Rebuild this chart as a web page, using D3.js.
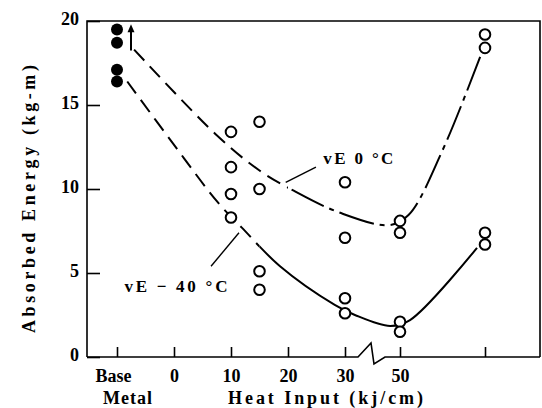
<!DOCTYPE html>
<html>
<head>
<meta charset="utf-8">
<script src="https://cdn.jsdelivr.net/npm/d3@7"></script>
<style>
  body { margin: 0; background: #fff; }
  svg { display: block; font-family: 'Liberation Serif', 'Times New Roman', serif; }
</style>
</head>
<body>
<div id="chart"></div>
<script>
// x axis: Base Metal sits left of 0, axis is broken between 30 and 50,
// the last (unlabelled) tick is the highest heat input
var tickValues = [-10, 0, 10, 20, 30, 50, 100],
    tickLabels = ['Base', '0', '10', '20', '30', '50', ''],
    yTicks = [0, 5, 10, 15, 20];

// base metal (filled dots)
var baseMetalX = -10,
    baseMetalEnergy = [19.5, 18.7, 17.1, 16.4];

// welded specimens (open dots)
var heatInput = [10, 10, 10, 10, 15, 15, 15, 15, 30, 30, 30, 30, 50, 50, 50, 50, 100, 100, 100, 100],
    absorbedEnergy = [13.4, 11.3, 9.7, 8.3, 14.0, 10.0, 5.1, 4.0, 10.4, 7.1, 3.5, 2.6, 8.1, 7.4, 2.1, 1.5, 19.2, 18.4, 7.4, 6.7];

// hand drawn trend curves
var ve0X = [-7, 7.5, 15, 21, 29, 46, 55, 75, 98],
    ve0Y = [18.3, 13.2, 11.1, 9.9, 8.6, 7.85, 8.45, 12.3, 18.1];
var ve40X = [-8.2, 0.5, 7.7, 11.9, 18.6, 28.2, 33.6, 46.4, 55.9, 95.3],
    ve40Y = [16.4, 12.4, 9.2, 7.7, 5.4, 3.1, 2.5, 1.85, 2.2, 6.5];

var pic_width = 542,
    pic_height = 408;

var margin = { top: 21, right: 2, bottom: 51, left: 87 };
var width = pic_width - margin.left - margin.right,   // 453
    height = pic_height - margin.top - margin.bottom; // 336

var x = d3.scaleLinear()
    .domain([-10, 30, 50, 100])
    .range([30, 258, 313, 398]);
var y = d3.scaleLinear().domain([0, 20]).range([height, 0]);

var svg = d3.select('#chart').append('svg')
    .attr('width', pic_width)
    .attr('height', pic_height);

var g = svg.append('g')
    .attr('transform', 'translate(' + margin.left + ',' + margin.top + ')');

// frame (bottom line is drawn with the break)
var xb = x(40);
g.append('path')
    .attr('d', 'M0,' + height + 'V0H' + width + 'V' + height
        + 'M0,' + height + 'H' + (xb - 14.5)
        + 'L' + (xb - 1.5) + ',' + (height - 14)
        + 'L' + (xb + 1.5) + ',' + (height + 7)
        + 'L' + (xb + 12.5) + ',' + height
        + 'H' + width)
    .attr('fill', 'none')
    .attr('stroke', '#000')
    .attr('stroke-width', 1.6);

// axes with inward ticks
var yAxis = d3.axisLeft(y).tickValues(yTicks).tickSizeInner(-13).tickSizeOuter(0).tickPadding(8);
var xAxis = d3.axisBottom(x).tickValues(tickValues)
    .tickFormat(function(d, i) { return tickLabels[i]; })
    .tickSizeInner(-10).tickSizeOuter(0).tickPadding(12);

var gy = g.append('g').call(yAxis);
var gx = g.append('g').attr('transform', 'translate(0,' + height + ')').call(xAxis);

[gx, gy].forEach(function(ax) {
    ax.select('.domain').remove();
    ax.selectAll('line').attr('stroke', '#000').attr('stroke-width', 1.6);
    ax.selectAll('text')
        .attr('fill', '#000')
        .style('font-size', '18px')
        .style('font-weight', 'bold')
        .style('font-family', "'Liberation Serif', serif");
});
gy.selectAll('text').attr('dy', '0.2em');
gx.selectAll('text').filter(function(d) { return d === -10; }).attr('dx', -4);

g.append('text')
    .attr('x', x(-10) + 11)
    .attr('y', height + 47)
    .attr('text-anchor', 'middle')
    .style('font-size', '18px')
    .style('font-weight', 'bold')
    .style('letter-spacing', '1px')
    .text('Metal');

// axis titles
g.append('text')
    .attr('x', 141)
    .attr('y', height + 47)
    .attr('textLength', 195)
    .attr('lengthAdjust', 'spacing')
    .style('font-size', '18px')
    .style('font-weight', 'bold')
    .text('Heat Input (kj/cm)');

svg.append('text')
    .attr('transform', 'translate(35,' + (margin.top + 178) + ') rotate(-90)')
    .attr('text-anchor', 'middle')
    .attr('textLength', 268)
    .attr('lengthAdjust', 'spacing')
    .style('font-size', '18px')
    .style('font-weight', 'bold')
    .text('Absorbed Energy   (kg-m)');

// trend curves, clipped in two parts to switch the dash style
var line = d3.line()
    .x(function(d) { return x(d[0]); })
    .y(function(d) { return y(d[1]); })
    .curve(d3.curveCatmullRom.alpha(0.5));

var defs = svg.append('defs');
function clip(id, x0, x1) {
    defs.append('clipPath').attr('id', id)
        .append('rect').attr('x', x0).attr('y', -20).attr('width', x1 - x0).attr('height', height + 40);
}
clip('ve0-left', 0, x(20));
clip('ve0-right', x(20), width);
clip('ve40-left', 0, x(15));
clip('ve40-right', x(15), width);

var ve0 = d3.zip(ve0X, ve0Y),
    ve40 = d3.zip(ve40X, ve40Y);

function curve(data, clipId, dash) {
    g.append('path')
        .datum(data)
        .attr('d', line)
        .attr('clip-path', 'url(#' + clipId + ')')
        .attr('fill', 'none')
        .attr('stroke', '#000')
        .attr('stroke-width', 2)
        .attr('stroke-dasharray', dash);
}
curve(ve0, 've0-left', '15,8');
curve(ve0, 've0-right', '36,6,5,6');
curve(ve40, 've40-left', '15,8');
curve(ve40, 've40-right', null);

// curve labels with leader lines
function leader(x0, y0, x1, y1) {
    g.append('line')
        .attr('x1', x(x0)).attr('y1', y(y0))
        .attr('x2', x(x1)).attr('y2', y(y1))
        .attr('stroke', '#000').attr('stroke-width', 1.4);
}
leader(24.9, 11.3, 19.6, 10.4);
leader(6.5, 5.4, 11.4, 7.4);

g.append('text')
    .attr('x', x(26.2)).attr('y', y(11.5))
    .attr('textLength', 70).attr('lengthAdjust', 'spacing')
    .style('font-size', '17px')
    .style('font-weight', 'bold')
    .text('vE 0 °C');
g.append('text')
    .attr('x', x(-8.7)).attr('y', y(3.85))
    .attr('textLength', 103).attr('lengthAdjust', 'spacing')
    .style('font-size', '17px')
    .style('font-weight', 'bold')
    .text('vE − 40 °C');

// points
g.selectAll('circle.base').data(baseMetalEnergy)
    .enter().append('circle')
    .attr('class', 'base')
    .attr('cx', x(baseMetalX))
    .attr('cy', function(d) { return y(d); })
    .attr('r', 6)
    .attr('fill', '#000');

g.selectAll('circle.weld').data(d3.zip(heatInput, absorbedEnergy))
    .enter().append('circle')
    .attr('class', 'weld')
    .attr('cx', function(d) { return x(d[0]); })
    .attr('cy', function(d) { return y(d[1]); })
    .attr('r', 5.3)
    .attr('fill', '#fff')
    .attr('stroke', '#000')
    .attr('stroke-width', 2);

// arrow: base metal value above scale
var ax = x(baseMetalX) + 14;
g.append('line')
    .attr('x1', ax).attr('x2', ax)
    .attr('y1', y(18.25)).attr('y2', y(19.5))
    .attr('stroke', '#000').attr('stroke-width', 2);
g.append('path')
    .attr('d', 'M' + ax + ',' + y(19.8) + 'l-3.5,8h7z')
    .attr('fill', '#000');
</script>
</body>
</html>
